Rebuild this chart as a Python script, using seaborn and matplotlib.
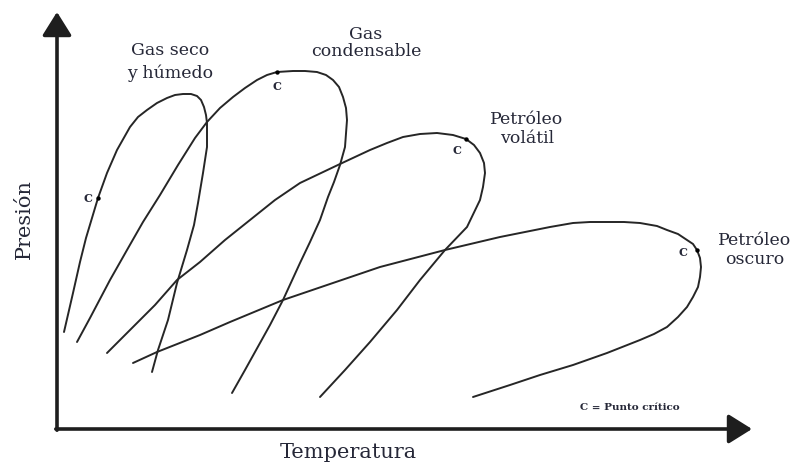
import pandas as pd
import matplotlib
matplotlib.use("Agg")
import matplotlib.pyplot as plt
import seaborn as sns

gas_seco_T = [7, 16, 23, 29, 35, 41, 50, 60, 73, 81, 90, 100, 110, 118, 126, 134, 140, 144,
              147, 149, 150, 150, 146, 141, 137, 130, 120, 111, 101, 95]
gas_seco_P = [97, 136, 167, 191, 211, 231, 256, 279, 302, 312, 319, 326, 331, 334, 335, 335,
              333, 329, 322, 314, 306, 282, 256, 226, 204, 179, 146, 109, 79, 57]

gas_cond_T = [20, 33, 53, 70, 86, 103, 121, 138, 150, 163, 176, 188, 200, 210, 220, 236,
              248, 260, 269, 276, 282, 286, 289, 290, 288, 283, 277, 271, 263, 253, 243,
              226, 213, 203, 188, 175]
gas_cond_P = [87, 111, 149, 179, 207, 234, 264, 291, 307, 321, 332, 341, 349, 354, 357, 358,
              358, 357, 354, 349, 342, 332, 321, 309, 282, 264, 247, 232, 209, 187, 166,
              129, 104, 86, 59, 36]

volatil_T = [50, 73, 98, 120, 143, 168, 193, 218, 243, 283, 313, 330, 346, 363, 380, 396,
             409, 417, 423, 427, 428, 426, 423, 410, 388, 363, 340, 313, 288, 263]
volatil_P = [76, 99, 124, 149, 167, 189, 209, 229, 246, 265, 279, 286, 292, 295, 296, 294,
             290, 284, 276, 266, 256, 242, 229, 202, 179, 149, 119, 87, 59, 32]

oscuro_T = [76, 100, 143, 173, 226, 273, 323, 388, 443, 493, 516, 533, 550, 567, 583, 600,
            610, 621, 630, 636, 640, 643, 644, 643, 641, 636, 630, 621, 610, 597, 583, 550,
            516, 483, 453, 416]
oscuro_P = [66, 77, 94, 107, 129, 145, 162, 179, 192, 202, 206, 207, 207, 207, 206, 203,
            199, 195, 189, 185, 179, 171, 162, 152, 142, 132, 122, 112, 102, 95, 89, 76,
            64, 54, 44, 32]

# Puntos criticos
crit_T = [41, 220, 409, 640]
crit_P = [231, 357, 290, 179]

curvas = {
    "Gas seco y húmedo": (gas_seco_T, gas_seco_P),
    "Gas condensable": (gas_cond_T, gas_cond_P),
    "Petróleo volátil": (volatil_T, volatil_P),
    "Petróleo oscuro": (oscuro_T, oscuro_P),
}
rows = []
for nombre, (ts, ps) in curvas.items():
    for i, (t, p) in enumerate(zip(ts, ps)):
        rows.append({"curva": nombre, "orden": i, "T": t, "P": p})
df = pd.DataFrame(rows)

sns.set_theme(style="white")
plt.rcParams["font.family"] = ["DejaVu Serif"]
txt = "#262838"
line = "#262626"

fig = plt.figure(figsize=(8, 4.68), dpi=100)
ax = fig.add_axes([0, 0, 1, 1])
ax.set_xlim(-57, 743)
ax.set_ylim(-39, 429)
ax.axis("off")

sns.lineplot(data=df, x="T", y="P", units="curva", estimator=None, sort=False,
             color=line, linewidth=1.4, ax=ax, legend=False)
sns.scatterplot(x=crit_T, y=crit_P, color="black", s=10, linewidth=0, ax=ax, zorder=5)

# Ejes con flechas
arrow = dict(arrowstyle="-|>,head_length=0.4,head_width=0.25", mutation_scale=36,
             color="#1e1e1e", lw=2.6, shrinkA=0, shrinkB=0)
ax.annotate("", xy=(695, 0), xytext=(-1.2, 0), arrowprops=arrow)
ax.annotate("", xy=(0, 417), xytext=(0, -1.2), arrowprops=arrow)

# Etiquetas "C"
for (x, y, dx, dy) in [(41, 231, -10, -1), (220, 357, 0, -14), (409, 290, -9, -12), (640, 179, -14, -3)]:
    ax.text(x + dx, y + dy, "C", fontsize=8, color=txt, ha="center", va="center",
            fontweight="bold")

ax.text(113, 367, "Gas seco\ny húmedo", fontsize=12.5, color=txt, ha="center", va="center",
        linespacing=1.4)
ax.text(309, 386, "Gas\ncondensable", fontsize=12.5, color=txt, ha="center", va="center",
        linespacing=1.05)
ax.text(470, 300, "Petróleo\nvolátil", fontsize=12.5, color=txt, ha="center", va="center",
        linespacing=1.1)
ax.text(698, 179, "Petróleo\noscuro", fontsize=12.5, color=txt, ha="center", va="center",
        linespacing=1.1)
ax.text(573, 21, "C = Punto crítico", fontsize=7.5, color=txt, ha="center", va="center",
        fontweight="bold")
ax.text(291, -24, "Temperatura", fontsize=15, color=txt, ha="center", va="center")
ax.text(-33, 210, "Presión", fontsize=15, color=txt, ha="center", va="center", rotation=90)

fig.savefig("out.png", dpi=100, facecolor="white")
